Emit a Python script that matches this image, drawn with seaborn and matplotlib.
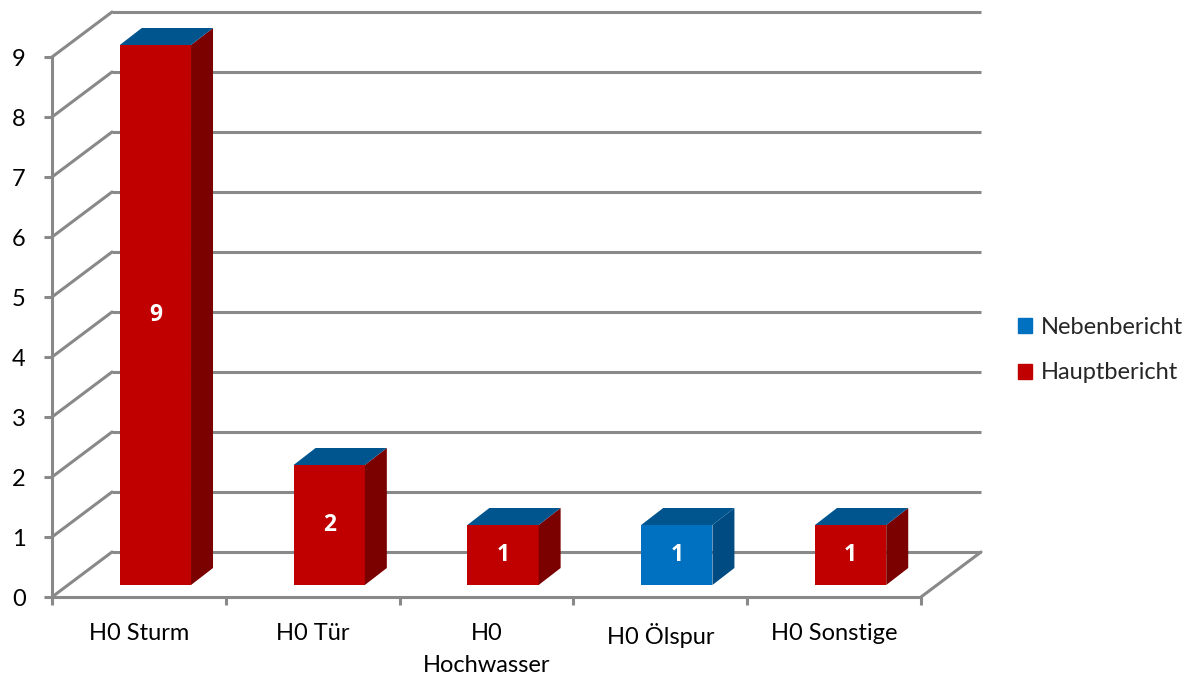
import matplotlib
matplotlib.use("Agg")
import matplotlib.pyplot as plt
from matplotlib.patches import Polygon, Patch
from matplotlib.transforms import ScaledTranslation
import pandas as pd
import seaborn as sns

# Einsatzberichte je Kategorie
categories = ["H0 Sturm", "H0 Tür", "H0\nHochwasser", "H0 Ölspur", "H0 Sonstige"]
hauptbericht = [9, 2, 1, 0, 1]
nebenbericht = [0, 0, 0, 1, 0]
y_ticks = list(range(0, 10))

sns.set_style("white")
plt.rcParams["font.family"] = ["Lato", "DejaVu Sans"]

W, H, DPI = 1202, 677, 100
FS = 17
GRID = "#898989"
LW = 2.2

fig = plt.figure(figsize=(W / DPI, H / DPI), dpi=DPI)
ax = fig.add_axes([52 / W, (H - 597) / H, 869 / W, 540 / H])

df = pd.DataFrame({"Kategorie": categories,
                   "Hauptbericht": hauptbericht,
                   "Nebenbericht": nebenbericht})

sns.barplot(data=df, x="Kategorie", y="Hauptbericht", color="#C00000",
            saturation=1, width=0.41, errorbar=None, linewidth=0, ax=ax, zorder=3)
n_haupt = len(ax.patches)
sns.barplot(data=df, x="Kategorie", y="Nebenbericht", color="#0070C0",
            saturation=1, width=0.41, errorbar=None, linewidth=0,
            bottom=df["Hauptbericht"].to_numpy(), ax=ax, zorder=3)

ax.set_xlim(-0.5, len(categories) - 0.5)
ax.set_ylim(0, 9)

# pixel -> data scale of the front plane
p0 = ax.transData.transform((0, 0))
p1 = ax.transData.transform((1, 1))
sx, sy = p1 - p0

# 3-D geometry (pixels): bar recess, bar depth, wall depth
bar_shift = ScaledTranslation(16.5 / DPI, 12 / DPI, fig.dpi_scale_trans)
bar_tr = ax.transData + bar_shift
bdx, bdy = 22 / sx, 17 / sy
wdx, wdy = 60 / sx, 45 / sy
wall_tr = ax.transData + ScaledTranslation(60 / DPI, 45 / DPI, fig.dpi_scale_trans)

# back-wall gridlines and the diagonals of the side wall
x_lo, x_hi = ax.get_xlim()
for y in y_ticks:
    ax.plot([x_lo, x_hi], [y, y], color=GRID, lw=LW, transform=wall_tr,
            clip_on=False, zorder=1, solid_capstyle="butt")
    ax.plot([x_lo, x_lo + wdx], [y, y + wdy], color=GRID, lw=LW,
            clip_on=False, zorder=1)
ax.plot([x_hi, x_hi + wdx], [0, wdy], color=GRID, lw=LW, clip_on=False, zorder=1)

SIDE = {"Hauptbericht": "#7B0000", "Nebenbericht": "#004B82"}
TOP = "#00558F"

def draw_segment(patch, side_c, value, with_top):
    patch.set_transform(bar_tr)
    patch.set_clip_on(False)
    x0, y0 = patch.get_x(), patch.get_y()
    w, h = patch.get_width(), patch.get_height()
    x1, y1 = x0 + w, y0 + h
    side = [(x1, y0), (x1, y1), (x1 + bdx, y1 + bdy), (x1 + bdx, y0 + bdy)]
    ax.add_patch(Polygon(side, closed=True, facecolor=side_c, edgecolor="none",
                         transform=bar_tr, zorder=3, clip_on=False))
    if with_top:
        top = [(x0, y1), (x1, y1), (x1 + bdx, y1 + bdy), (x0 + bdx, y1 + bdy)]
        ax.add_patch(Polygon(top, closed=True, facecolor=TOP, edgecolor="none",
                             transform=bar_tr, zorder=4, clip_on=False))
    if value > 0:
        ax.text(x0 + w / 2, y0 + h / 2, f"{value:g}", transform=bar_tr,
                ha="center", va="center", color="white", fontsize=FS - 0.5,
                fontweight="bold", family=["Open Sans", "DejaVu Sans"], zorder=5)

patches = list(ax.patches)
# the upper series closes every stack, so it carries the top face
for patch, v in zip(patches[:n_haupt], hauptbericht):
    draw_segment(patch, SIDE["Hauptbericht"], v, with_top=False)
for patch, v in zip(patches[n_haupt:n_haupt + len(categories)], nebenbericht):
    draw_segment(patch, SIDE["Nebenbericht"], v, with_top=True)

# axes: front floor edge and value axis
for s in ("top", "right"):
    ax.spines[s].set_visible(False)
for s in ("left", "bottom"):
    ax.spines[s].set_color(GRID)
    ax.spines[s].set_linewidth(LW)
    ax.spines[s].set_zorder(2)

ax.set_yticks(y_ticks)
ax.set_yticklabels([str(t) for t in y_ticks])
ax.set_xticks([i - 0.5 for i in range(len(categories) + 1)])
ax.set_xticklabels([])
ax.set_xticks(range(len(categories)), minor=True)
ax.set_xticklabels(categories, minor=True, linespacing=1.6)
ax.tick_params(axis="y", left=True, direction="out", length=6, width=LW,
               color=GRID, pad=13, labelsize=FS, labelcolor="black")
ax.tick_params(axis="x", which="major", bottom=True, direction="out", length=6,
               width=LW, color=GRID)
ax.tick_params(axis="x", which="minor", bottom=True, length=0, pad=19,
               labelsize=FS, labelcolor="black")
ax.set_xlabel("")
ax.set_ylabel("")

fig.legend(handles=[Patch(color="#0070C0", label="Nebenbericht"),
                    Patch(color="#C00000", label="Hauptbericht")],
           loc="center left", bbox_to_anchor=(1018 / W, 1 - 350 / H),
           frameon=False, fontsize=FS, handlelength=0.6, handleheight=0.6,
           handletextpad=0.35, labelspacing=1.05, borderpad=0, borderaxespad=0)

fig.savefig("out.png", dpi=DPI)
